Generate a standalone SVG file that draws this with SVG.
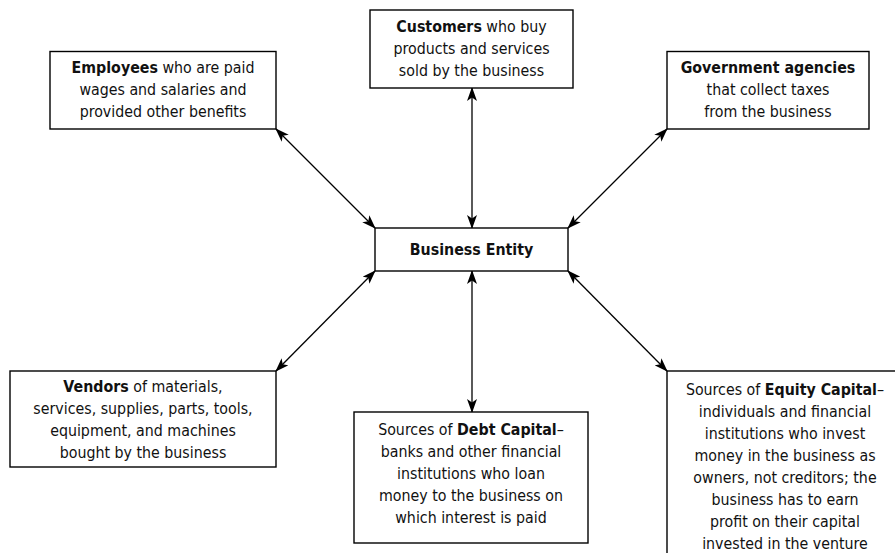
<svg xmlns="http://www.w3.org/2000/svg" width="895" height="553" viewBox="0 0 895 553">
<defs>
<style>
.box{fill:#fff;stroke:#000;stroke-width:1.4}
.t{font-family:"Liberation Sans Narrow","Arial Narrow","DejaVu Sans Condensed",sans-serif;font-size:15.8px;fill:#111;text-anchor:middle}
.b{font-weight:bold}
.c{stroke:#000;stroke-width:1.3;fill:none;marker-start:url(#ah);marker-end:url(#ah)}
</style>
<marker id="ah" viewBox="0 0 14 10" refX="13" refY="5" markerWidth="14" markerHeight="10" markerUnits="userSpaceOnUse" orient="auto-start-reverse">
<path d="M0,0 L14,5 L0,10 L3.5,5 z" fill="#000"/>
</marker>
</defs>
<rect width="895" height="553" fill="#fff"/>
<g id="connectors">
<line class="c" x1="276" y1="129" x2="375" y2="228"/>
<line class="c" x1="472" y1="88" x2="472" y2="228"/>
<line class="c" x1="667" y1="129" x2="568" y2="228"/>
<line class="c" x1="276" y1="371" x2="375" y2="271"/>
<line class="c" x1="472" y1="271" x2="472" y2="412"/>
<line class="c" x1="568" y1="271" x2="667" y2="371"/>
</g>
<g id="employees">
<rect class="box" x="50" y="51.5" width="226" height="77.5"/>
<text class="t" x="163" y="73"><tspan class="b">Employees</tspan> who are paid</text>
<text class="t" x="163" y="95">wages and salaries and</text>
<text class="t" x="163" y="117">provided other benefits</text>
</g>
<g id="customers">
<rect class="box" x="370" y="10" width="203" height="78"/>
<text class="t" x="471.5" y="32"><tspan class="b">Customers</tspan> who buy</text>
<text class="t" x="471.5" y="54">products and services</text>
<text class="t" x="471.5" y="76">sold by the business</text>
</g>
<g id="government">
<rect class="box" x="667" y="51.5" width="202" height="77.5"/>
<text class="t b" x="768" y="73">Government agencies</text>
<text class="t" x="768" y="95">that collect taxes</text>
<text class="t" x="768" y="117">from the business</text>
</g>
<g id="business">
<rect class="box" x="375" y="228" width="193" height="43"/>
<text class="t b" x="471.5" y="255">Business Entity</text>
</g>
<g id="vendors">
<rect class="box" x="10" y="371" width="266" height="96"/>
<text class="t" x="143" y="392"><tspan class="b">Vendors</tspan> of materials,</text>
<text class="t" x="143" y="414">services, supplies, parts, tools,</text>
<text class="t" x="143" y="436">equipment, and machines</text>
<text class="t" x="143" y="458">bought by the business</text>
</g>
<g id="debt">
<rect class="box" x="354" y="412" width="234" height="131"/>
<text class="t" x="471" y="435">Sources of <tspan class="b">Debt Capital</tspan>–</text>
<text class="t" x="471" y="457">banks and other financial</text>
<text class="t" x="471" y="479">institutions who loan</text>
<text class="t" x="471" y="501">money to the business on</text>
<text class="t" x="471" y="523">which interest is paid</text>
</g>
<g id="equity">
<rect class="box" x="667" y="371" width="240" height="200"/>
<text class="t" x="785" y="395">Sources of <tspan class="b">Equity Capital</tspan>–</text>
<text class="t" x="785" y="417">individuals and financial</text>
<text class="t" x="785" y="439">institutions who invest</text>
<text class="t" x="785" y="461">money in the business as</text>
<text class="t" x="785" y="483">owners, not creditors; the</text>
<text class="t" x="785" y="505">business has to earn</text>
<text class="t" x="785" y="527">profit on their capital</text>
<text class="t" x="785" y="549">invested in the venture</text>
</g>
</svg>
